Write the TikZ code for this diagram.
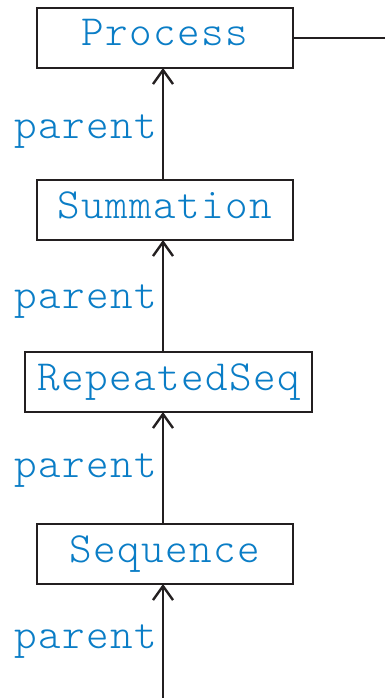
\documentclass[tikz,border=0pt]{standalone}
\usetikzlibrary{arrows.meta}
\definecolor{classblue}{HTML}{0A7DC6}
\definecolor{edgegray}{HTML}{231F20}
% set a word with every letter in a cell of fixed width
\ExplSyntaxOn
\NewDocumentCommand\cellword{m}{\tl_map_inline:nn{#1}{\makebox[24pt]{##1}}}
\ExplSyntaxOff
\newcommand\labelfont{\fontsize{43}{43}\fontseries{l}\ttfamily\selectfont}
\tikzset{
  classbox/.style={draw=edgegray, line width=1.8pt, fill=white,
    minimum height=60pt, inner sep=0pt, outer sep=0pt,
    text height=24pt, text depth=8pt,
    font=\labelfont, text=classblue},
  rolelabel/.style={anchor=base, inner sep=0pt,
    font=\labelfont, text=classblue},
  parentarrow/.style={draw=edgegray, line width=1.8pt,
    -{Straight Barb[length=14pt,width=20pt,line width=2.4pt]}},
  link/.style={draw=edgegray, line width=1.8pt}
}
\begin{document}
\begin{tikzpicture}[x=1pt,y=-1pt]
  \useasboundingbox (0,0) rectangle (385,698);

  % class boxes
  \node[classbox, minimum width=256pt] (process)   at (165,38)    {\cellword{Process}};
  \node[classbox, minimum width=256pt] (summation) at (165,210)   {\cellword{Summation}};
  \node[classbox, minimum width=287pt] (repseq)    at (168.5,382) {\cellword{RepeatedSeq}};
  \node[classbox, minimum width=256pt] (sequence)  at (165,554)   {\cellword{Sequence}};

  % free ends
  \coordinate (bottom) at (163,698);
  \coordinate (rightend) at (385,38);

  % parent links
  \draw[parentarrow] (163,180) -- (163,68);
  \draw[parentarrow] (163,352) -- (163,240);
  \draw[parentarrow] (163,524) -- (163,412);
  \draw[parentarrow] (bottom) -- (163,584);
  \draw[link] (process.east) -- (rightend);

  % role labels
  \node[rolelabel] (p1) at (86,138) {\cellword{parent}};
  \node[rolelabel] (p2) at (86,308) {\cellword{parent}};
  \node[rolelabel] (p3) at (86,477) {\cellword{parent}};
  \node[rolelabel] (p4) at (86,648) {\cellword{parent}};
\end{tikzpicture}
\end{document}
